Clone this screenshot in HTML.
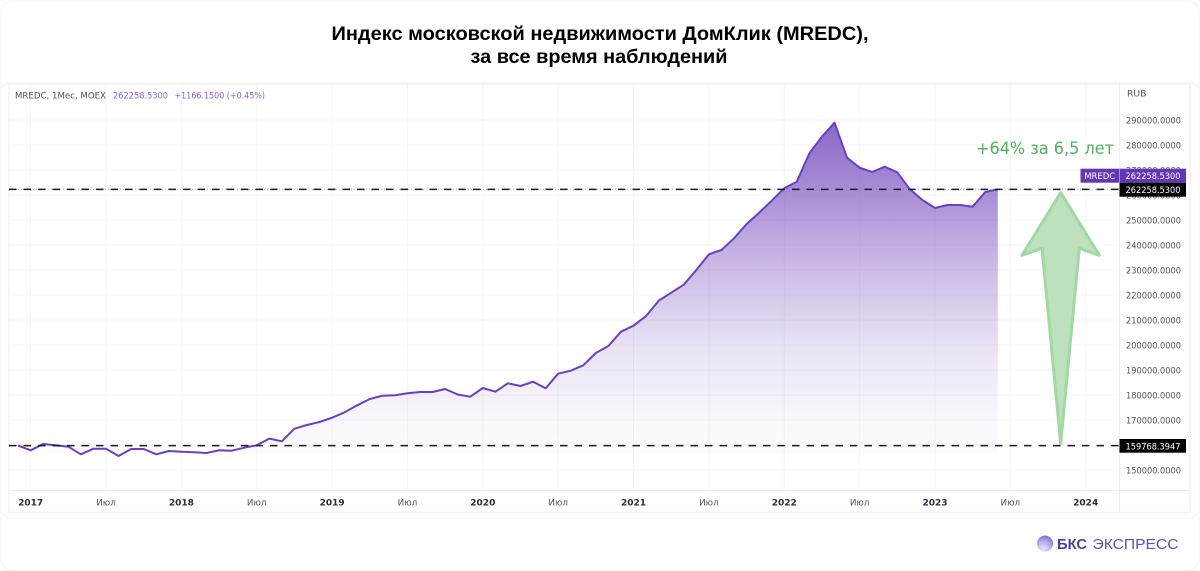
<!DOCTYPE html>
<html lang="ru">
<head>
<meta charset="utf-8">
<title>Индекс московской недвижимости ДомКлик</title>
<style>
html,body{margin:0;padding:0;background:#fff;}
svg{display:block;font-family:"Liberation Sans","DejaVu Sans",sans-serif;}
.ax{font-family:"DejaVu Sans","Liberation Sans",sans-serif;}
</style>
</head>
<body>
<svg id="chart" xmlns="http://www.w3.org/2000/svg" width="1200" height="571" viewBox="0 0 1200 571">
  <defs>
    <linearGradient id="areaFill" gradientUnits="userSpaceOnUse" x1="0" y1="122" x2="0" y2="490">
      <stop offset="0" stop-color="#6a3db8" stop-opacity="0.78"/>
      <stop offset="0.212" stop-color="#6a3db8" stop-opacity="0.56"/>
      <stop offset="0.37" stop-color="#6a3db8" stop-opacity="0.38"/>
      <stop offset="0.484" stop-color="#6a3db8" stop-opacity="0.27"/>
      <stop offset="0.62" stop-color="#6a3db8" stop-opacity="0.14"/>
      <stop offset="0.81" stop-color="#6a3db8" stop-opacity="0.04"/>
      <stop offset="0.90" stop-color="#6a3db8" stop-opacity="0.02"/>
      <stop offset="0.901" stop-color="#6a3db8" stop-opacity="0"/>
    </linearGradient>
    <radialGradient id="logoBall" cx="0.4" cy="0.8" r="0.85">
      <stop offset="0" stop-color="#e6e1fb"/>
      <stop offset="0.5" stop-color="#b9aef0"/>
      <stop offset="1" stop-color="#7565d6"/>
    </radialGradient>
  </defs>
  <rect x="1" y="1" width="1198" height="569" rx="11" fill="#fff" stroke="#f4f4f6"/>
  <text x="600" y="40" text-anchor="middle" font-size="19.5" font-weight="700" fill="#000" textLength="537" lengthAdjust="spacingAndGlyphs">Индекс московской недвижимости ДомКлик (MREDC),</text>
  <text x="599" y="63" text-anchor="middle" font-size="19.5" font-weight="700" fill="#000" textLength="257" lengthAdjust="spacingAndGlyphs">за все время наблюдений</text>
  <rect x="1" y="83" width="1198" height="435" rx="9" fill="#fff" stroke="#f3f3f5"/>
  <rect x="9" y="84" width="1181" height="428.5" fill="#fff" stroke="#f3f3f9" stroke-width="1.5"/>
  <g id="grid"></g>
  <path id="area" fill="url(#areaFill)"></path>
  <path id="line" fill="none" stroke="#6a3fc0" stroke-width="2" stroke-linejoin="round"></path>
  <line x1="9" y1="490.5" x2="1190" y2="490.5" stroke="#eeeef3"/>
  <line x1="1119.5" y1="84" x2="1119.5" y2="512" stroke="#eeeef3"/>
  <g id="yTicks"></g>
  <g id="xTicks"></g>
  <text class="ax" x="1127" y="96.5" font-size="9.2" fill="#50535e">RUB</text>
  <text class="ax" x="15" y="98.5" font-size="9" fill="#50535e" textLength="91" lengthAdjust="spacingAndGlyphs">MREDC, 1Мес, MOEX</text>
  <text class="ax" x="113" y="98.5" font-size="9" fill="#8a63cc" textLength="55" lengthAdjust="spacingAndGlyphs">262258.5300</text>
  <text class="ax" x="174.5" y="98.5" font-size="9" fill="#8a63cc" textLength="90.5" lengthAdjust="spacingAndGlyphs">+1166.1500 (+0.45%)</text>
  <line id="lastDotted" x1="9" x2="1119" stroke="#8a63cc" stroke-width="1" stroke-dasharray="1 2" opacity="0.6"></line>
  <line id="topDash" x1="9" x2="1119" stroke="#1a1a1a" stroke-width="1.5" stroke-dasharray="7.5 7"></line>
  <line id="baseDash" x1="9" x2="1119" stroke="#1a1a1a" stroke-width="1.5" stroke-dasharray="7.5 7"></line>
  <polygon points="1060.7,192.7 1099.3,255.3 1079.3,248.3 1060.7,443.3 1042,248.3 1022,255.3" fill="#bde0bd" stroke="#a2d8a4" stroke-width="3" stroke-linejoin="round"></polygon>
  <text class="ax" x="976" y="154" font-size="16.5" fill="#4fb35a" textLength="138" lengthAdjust="spacingAndGlyphs">+64% за 6,5 лет</text>
  <g>
    <rect x="1080.5" y="168.7" width="38.5" height="14" fill="#6236b5"/>
    <text class="ax" x="1099.7" y="179.2" text-anchor="middle" font-size="9" fill="#fff" textLength="31" lengthAdjust="spacingAndGlyphs">MREDC</text>
    <rect x="1119.5" y="168.7" width="66.5" height="14" fill="#6236b5"/>
    <text class="ax" x="1153" y="179.2" text-anchor="middle" font-size="9" fill="#fff" textLength="55" lengthAdjust="spacingAndGlyphs">262258.5300</text>
  </g>
  <g>
    <rect x="1119.5" y="182.7" width="66.5" height="14" fill="#000"/>
    <text class="ax" x="1153" y="193.2" text-anchor="middle" font-size="9" fill="#fff" textLength="55" lengthAdjust="spacingAndGlyphs">262258.5300</text>
  </g>
  <g>
    <rect x="1119.5" y="439" width="66.5" height="13.7" fill="#000"/>
    <text class="ax" x="1153" y="449.3" text-anchor="middle" font-size="9" fill="#fff" textLength="55" lengthAdjust="spacingAndGlyphs">159768.3947</text>
  </g>
  <g>
    <circle cx="1045" cy="543.5" r="8" fill="url(#logoBall)"></circle>
    <text x="1057" y="549" font-size="14.5" font-weight="700" fill="#4a3ea8" textLength="30" lengthAdjust="spacingAndGlyphs">БКС</text>
    <text x="1092.5" y="549" font-size="14.5" fill="#5a50b5" textLength="86" lengthAdjust="spacingAndGlyphs">ЭКСПРЕСС</text>
  </g>
</svg>
<script>
var priceValues = [159768,157880,160400,159880,159320,156280,158520,158520,155600,158400,158400,156280,157600,157320,157080,156800,157880,157720,158920,159880,162560,161480,166520,168000,169200,170920,173080,175880,178400,179720,179880,180680,181200,181200,182400,180200,179320,182800,181320,184680,183600,185320,182680,188520,189720,191880,196800,199600,205320,207720,211600,217720,220920,224120,230000,236280,238000,242680,248400,252920,257720,262680,265320,276680,283320,288920,274920,270920,269200,271320,269080,262280,258000,254800,256000,256000,255320,261200,262258.53];
var yTickValues = [150000,160000,170000,180000,190000,200000,210000,220000,230000,240000,250000,260000,270000,280000,290000];
var xTickLabels = ["2017","Июл","2018","Июл","2019","Июл","2020","Июл","2021","Июл","2022","Июл","2023","Июл","2024"];
var xTickMonths = [1,7,13,19,25,31,37,43,49,55,61,67,73,79,85];
var currentLevel = 262258.53;
var startLevel = 159768.3947;

var SVGNS = "http://www.w3.org/2000/svg";
function xScale(i){ return 18.1 + i * 12.56; }
function yScale(v){ return 470 + (150000 - v) * 0.0025; }

var gridG = document.getElementById("grid");
var yG = document.getElementById("yTicks");
var xG = document.getElementById("xTicks");

yTickValues.forEach(function(v){
  var l = document.createElementNS(SVGNS, "line");
  
  
  l.setAttribute("x1", 9);
  l.setAttribute("x2", 1119);
  l.setAttribute("y1", yScale(v));
  l.setAttribute("y2", yScale(v));
  l.setAttribute("stroke", "#f5f5f7");
  gridG.appendChild(l);
  var t = document.createElementNS(SVGNS, "text");
  
  
  t.setAttribute("class", "ax");
  t.setAttribute("x", 1153.5);
  t.setAttribute("y", yScale(v) + 3.5);
  t.setAttribute("text-anchor", "middle");
  t.setAttribute("font-size", "9");
  t.setAttribute("fill", "#50535e");
  t.setAttribute("textLength", "55");
  t.setAttribute("lengthAdjust", "spacingAndGlyphs");
  t.textContent = v.toFixed(4);
  yG.appendChild(t);
});

xTickMonths.forEach(function(m, i){
  var x = xScale(m);
  var l = document.createElementNS(SVGNS, "line");
  
  
  l.setAttribute("x1", x);
  l.setAttribute("x2", x);
  l.setAttribute("y1", 84);
  l.setAttribute("y2", 490);
  l.setAttribute("stroke", "#f5f5f7");
  gridG.appendChild(l);
  var isYear = xTickLabels[i] !== "Июл";
  var t = document.createElementNS(SVGNS, "text");
  
  
  t.setAttribute("class", "ax");
  t.setAttribute("x", x);
  t.setAttribute("y", 505.5);
  t.setAttribute("text-anchor", "middle");
  t.setAttribute("font-size", isYear ? "9" : "8.8");
  t.setAttribute("font-weight", isYear ? "700" : "400");
  t.setAttribute("fill", isYear ? "#2a2e39" : "#50535e");
  t.textContent = xTickLabels[i];
  xG.appendChild(t);
});

var d = priceValues.map(function(v, i){
  return (i ? "L" : "M") + xScale(i).toFixed(2) + " " + yScale(v).toFixed(2);
}).join(" ");
document.getElementById("line").setAttribute("d", d);
var lastX = xScale(priceValues.length - 1).toFixed(2);
document.getElementById("area").setAttribute("d", d + " L" + lastX + " 490 L" + xScale(0).toFixed(2) + " 490 Z");

[["lastDotted", currentLevel], ["topDash", currentLevel], ["baseDash", startLevel]].forEach(function(p){
  var el = document.getElementById(p[0]);
  el.setAttribute("y1", yScale(p[1]));
  el.setAttribute("y2", yScale(p[1]));
});
</script>
</body>
</html>
